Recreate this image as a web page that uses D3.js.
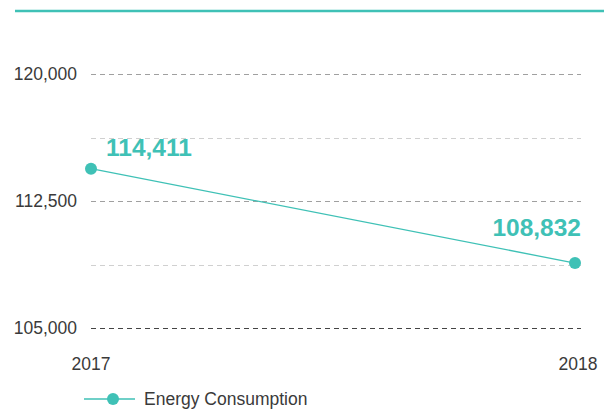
<!DOCTYPE html>
<html>
<head>
<meta charset="utf-8">
<script src="https://cdn.jsdelivr.net/npm/d3@7"></script>
<style>
  html, body { margin: 0; padding: 0; background: #fff; }
  svg { display: block; font-family: "Liberation Sans", Arial, Helvetica, sans-serif; }
</style>
</head>
<body>
<svg id="chart" width="613" height="410"></svg>
<script>
// Annual energy consumption
const years = ["2017", "2018"];
const consumption = [114411, 108832];
const gridValues = [105000, 108750, 112500, 116250, 120000];
const tickLabels = ["105,000", "", "112,500", "", "120,000"];
const seriesName = "Energy Consumption";

const teal = "#3fc1b6";
const textColor = "#3a3a3a";
const svg = d3.select("#chart");

const x = d3.scalePoint().domain(years).range([91, 575]);
const y = d3.scaleLinear().domain([105000, 120000]).range([328, 74]);

// Header rule
svg.append("line")
  .attr("x1", 15).attr("x2", 604)
  .attr("y1", 11).attr("y2", 11)
  .attr("stroke", teal).attr("stroke-width", 2.5);

// Horizontal grid
const gridColor = v => v === 105000 ? "#444" : (gridValues.indexOf(v) % 2 === 0 ? "#a0a0a0" : "#d0d0d0");
svg.append("g").selectAll("line")
  .data(gridValues)
  .join("line")
  .attr("x1", 91).attr("x2", 581)
  .attr("y1", d => Math.round(y(d)) + 0.5)
  .attr("y2", d => Math.round(y(d)) + 0.5)
  .attr("stroke", gridColor)
  .attr("stroke-width", 1)
  .attr("stroke-dasharray", "5,4");

// Y tick labels
svg.append("g").selectAll("text")
  .data(gridValues)
  .join("text")
  .attr("x", 77)
  .attr("y", d => y(d) + 6)
  .attr("text-anchor", "end")
  .attr("font-size", 17.5)
  .attr("fill", textColor)
  .text((d, i) => tickLabels[i]);

// X tick labels
svg.append("g").selectAll("text")
  .data(years)
  .join("text")
  .attr("x", (d, i) => x(d) + (i === 1 ? 3 : 0))
  .attr("y", 370)
  .attr("text-anchor", "middle")
  .attr("font-size", 17.5)
  .attr("fill", textColor)
  .text(d => d);

// Series line
const pts = years.map((yr, i) => ({ yr, v: consumption[i] }));
svg.append("path")
  .datum(pts)
  .attr("fill", "none")
  .attr("stroke", teal)
  .attr("stroke-width", 1.3)
  .attr("d", d3.line().x(d => x(d.yr)).y(d => y(d.v)));

svg.append("g").selectAll("circle")
  .data(pts)
  .join("circle")
  .attr("cx", d => x(d.yr))
  .attr("cy", d => y(d.v))
  .attr("r", 6)
  .attr("fill", teal);

// Value labels
const fmt = d3.format(",");
svg.append("g").selectAll("text")
  .data(pts)
  .join("text")
  .attr("x", (d, i) => i === 0 ? x(d.yr) + 15 : x(d.yr) + 6)
  .attr("y", (d, i) => i === 0 ? y(d.v) - 13 : y(d.v) - 27)
  .attr("text-anchor", (d, i) => i === 0 ? "start" : "end")
  .attr("font-size", 24.5)
  .attr("font-weight", "bold")
  .attr("fill", teal)
  .text(d => fmt(d.v));

// Legend
const lg = svg.append("g").attr("transform", "translate(84,399)");
lg.append("line").attr("x1", 0).attr("x2", 51).attr("y1", 0).attr("y2", 0)
  .attr("stroke", teal).attr("stroke-width", 1.3);
lg.append("circle").attr("cx", 29).attr("cy", 0).attr("r", 6).attr("fill", teal);
lg.append("text").attr("x", 60).attr("y", 6)
  .attr("font-size", 17.5).attr("fill", textColor)
  .text(seriesName);
</script>
</body>
</html>
